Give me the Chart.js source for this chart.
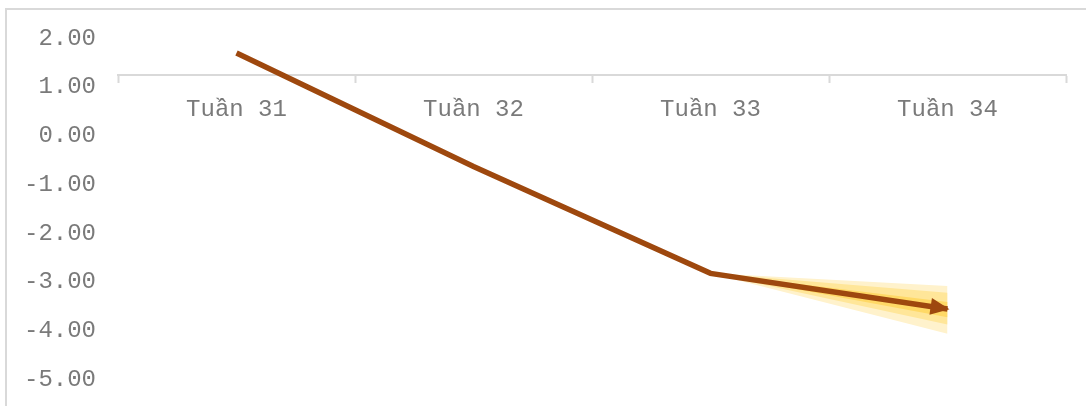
<!DOCTYPE html>
<html>
<head>
<meta charset="utf-8">
<script src="https://cdn.jsdelivr.net/npm/chart.js@4/dist/chart.umd.min.js"></script>
<style>
  html, body { margin: 0; padding: 0; background: #fff; overflow: hidden; }
  #frame {
    position: absolute; left: 5px; top: 8px; width: 1200px; height: 500px;
    border-left: 2px solid #d9d9d9; border-top: 2px solid #d9d9d9;
  }
  #wrap { position: absolute; left: 0; top: 0; width: 1086px; height: 406px; }
</style>
</head>
<body>
<div id="frame"></div>
<div id="wrap"><canvas id="chart" width="1086" height="406"></canvas></div>
<script>
// weekly index, actual line + forecast fan for week 34
const weeks      = ['Tuần 31', 'Tuần 32', 'Tuần 33', 'Tuần 34'];
const values     = [1.70, -0.63, -2.82, -3.55];
const yTicks     = [2, 1, 0, -1, -2, -3, -4, -5];

// fan bands start at the week 33 value and open out to week 34
const outerTop   = [null, null, -2.82, -3.08];
const outerBot   = [null, null, -2.82, -4.06];
const midTop     = [null, null, -2.82, -3.22];
const midBot     = [null, null, -2.82, -3.87];
const innerTop   = [null, null, -2.82, -3.41];
const innerBot   = [null, null, -2.82, -3.72];

const LINE_COLOR = '#9e480e';
const TEXT_COLOR = '#7a7a7a';
const FONT = "'Courier New', 'Liberation Mono', monospace";

function band(data, color, fill) {
  return {
    data, fill, backgroundColor: color, borderWidth: 0,
    pointRadius: 0, tension: 0, spanGaps: false,
  };
}

// arrowhead at the last point of the main line
const arrowPlugin = {
  id: 'arrow',
  afterDatasetsDraw(chart) {
    const pts = chart.getDatasetMeta(0).data;
    const a = pts[pts.length - 2], b = pts[pts.length - 1];
    const ang = Math.atan2(b.y - a.y, b.x - a.x);
    const len = 19, half = 8.5;
    const tipX = b.x + 2 * Math.cos(ang), tipY = b.y + 2 * Math.sin(ang);
    const ctx = chart.ctx;
    ctx.save();
    ctx.translate(tipX, tipY);
    ctx.rotate(ang);
    ctx.beginPath();
    ctx.moveTo(0, 0);
    ctx.lineTo(-len, -half);
    ctx.lineTo(-len, half);
    ctx.closePath();
    ctx.fillStyle = LINE_COLOR;
    ctx.fill();
    ctx.restore();
  },
};

new Chart(document.getElementById('chart').getContext('2d'), {
  type: 'line',
  data: {
    labels: weeks,
    datasets: [
      {
        data: values,
        borderColor: LINE_COLOR,
        borderWidth: 5.5,
        pointRadius: 0,
        tension: 0,
        fill: false,
        borderJoinStyle: 'miter',
      },
      band(innerTop, '#ffd966', '+1'),
      band(innerBot, 'transparent', false),
      band(midTop, '#ffe699', '+1'),
      band(midBot, 'transparent', false),
      band(outerTop, '#fff2cc', '+1'),
      band(outerBot, 'transparent', false),
    ],
  },
  options: {
    responsive: false,
    animation: false,
    layout: { padding: { top: 14, bottom: 2, left: 0, right: 20 } },
    plugins: { legend: { display: false }, tooltip: { enabled: false } },
    scales: {
      x: {
        position: { y: 1.25 },
        offset: true,
        afterFit: s => {
          s.height = 0;
          s.paddingLeft = s.paddingRight = s.paddingTop = s.paddingBottom = 0;
        },
        grid: {
          offset: true, drawOnChartArea: false, drawTicks: true,
          tickLength: 7, tickWidth: 2, tickColor: '#d9d9d9',
        },
        border: { display: true, color: '#d9d9d9', width: 2 },
        ticks: { color: TEXT_COLOR, font: { family: FONT, size: 24 }, padding: 13, maxRotation: 0 },
      },
      y: {
        min: -5.5,
        max: 2.5,
        afterBuildTicks: s => { s.ticks = yTicks.map(v => ({ value: v })); },
        afterFit: s => {
          s.width = 118;
          s.paddingLeft = s.paddingRight = s.paddingTop = s.paddingBottom = 0;
        },
        grid: { display: false, drawTicks: false },
        border: { display: false },
        ticks: {
          color: TEXT_COLOR, font: { family: FONT, size: 24 }, padding: 22,
          callback: v => v.toFixed(2),
        },
      },
    },
  },
  plugins: [arrowPlugin],
});
</script>
</body>
</html>
